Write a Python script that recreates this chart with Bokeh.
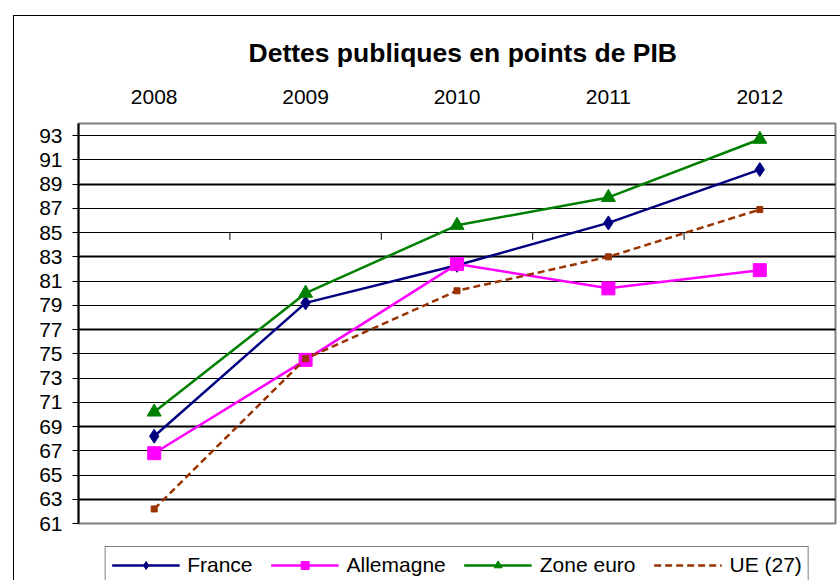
from bokeh.plotting import figure
from bokeh.models import FactorRange, Range1d, FixedTicker, Grid
from bokeh.layouts import column
from bokeh.embed import file_html
from bokeh.resources import INLINE

# ---- data ----
years = ["2008", "2009", "2010", "2011", "2012"]
france = [68.2, 79.2, 82.3, 85.8, 90.2]
allemagne = [66.8, 74.5, 82.4, 80.4, 81.9]
zone_euro = [70.2, 80.0, 85.6, 87.9, 92.7]
ue27 = [62.2, 74.6, 80.2, 83.0, 86.9]
y_ticks = [61, 63, 65, 67, 69, 71, 73, 75, 77, 79, 81, 83, 85, 87, 89, 91, 93]
heavy_grid = [63, 69, 77, 83, 89]
axis_cross = 85

FONT = "Liberation Sans"

# series styling: (label, values, colour, dash, marker, marker size, marker in legend)
series = [
    ("France", france, "#000080", "solid", "diamond", 14, True),
    ("Allemagne", allemagne, "#FF00FF", "solid", "square", 13, True),
    ("Zone euro", zone_euro, "#008000", "solid", "triangle", 14, True),
    ("UE (27)", ue27, "#993300", "7 4", "square", 6, False),
]

p = figure(width=826, height=530, output_backend="svg", toolbar_location=None,
           x_range=FactorRange(factors=years, range_padding=0),
           y_range=Range1d(61, 94),
           x_axis_location="above",
           min_border_left=64, min_border_right=5, min_border_top=107,
           min_border_bottom=23)

p.background_fill_color = "white"
p.border_fill_color = "white"
p.outline_line_color = "#808080"
p.outline_line_width = 2

# title
p.title.text = "Dettes publiques en points de PIB"
p.title.text_font = FONT
p.title.text_font_size = "26.5px"
p.title.text_font_style = "bold"
p.title.text_color = "black"
p.title.align = "left"
p.title.offset = 170
p.title.standoff = 37

# top category axis
xa = p.xaxis[0]
xa.axis_line_color = None
xa.major_tick_line_color = None
xa.minor_tick_line_color = None
xa.major_label_text_font = FONT
xa.major_label_text_font_size = "21px"
xa.major_label_text_color = "black"
xa.major_label_standoff = 14

# left value axis
ya = p.yaxis[0]
ya.ticker = FixedTicker(ticks=y_ticks)
ya.axis_line_color = "black"
ya.axis_line_width = 2
ya.major_tick_line_color = "black"
ya.major_tick_out = 6
ya.major_tick_in = 0
ya.minor_tick_line_color = None
ya.major_label_text_font = FONT
ya.major_label_text_font_size = "21px"
ya.major_label_text_color = "black"
ya.major_label_standoff = 10

# grids
p.xgrid.visible = False
p.ygrid.ticker = FixedTicker(ticks=y_ticks)
p.ygrid.grid_line_color = "black"
p.ygrid.grid_line_width = 1
p.ygrid.grid_line_alpha = 1
hg = Grid(dimension=1, ticker=FixedTicker(ticks=heavy_grid),
          grid_line_color="black", grid_line_width=2)
p.add_layout(hg)

# category tick marks on the axis crossing line
tick_x = [i + 1 for i in range(len(years))]
p.segment(x0=tick_x, y0=[axis_cross] * len(tick_x), x1=tick_x,
          y1=[axis_cross - 0.6] * len(tick_x), line_color="black", line_width=1)

# series lines + markers
for label, vals, col, dash, mk, ms, _ in series:
    p.line(years, vals, line_color=col, line_width=2.5, line_dash=dash)
    p.scatter(years, vals, marker=mk, size=ms, fill_color=col, line_color=col)

# ---- legend strip (separate figure under the chart) ----
# same series drawn against a value range that keeps them out of view,
# so only their legend entries show
lg = figure(width=826, height=34, output_backend="svg", toolbar_location=None,
            x_axis_location=None, y_axis_location=None,
            x_range=FactorRange(factors=years, range_padding=0),
            y_range=Range1d(0, 1),
            min_border_left=64, min_border_right=5, min_border_top=0,
            min_border_bottom=0)
lg.outline_line_color = None
lg.background_fill_color = "white"
lg.border_fill_color = "white"
lg.xgrid.visible = False
lg.ygrid.visible = False
for label, vals, col, dash, mk, ms, show_marker in series:
    lg.line(years, vals, line_color=col, line_width=2.5, line_dash=dash, legend_label=label)
    if show_marker:
        lg.scatter(years, vals, marker=mk, size=ms - 3, fill_color=col, line_color=col,
                   legend_label=label)

leg = lg.legend[0]
leg.orientation = "horizontal"
leg.location = "top_center"
leg.margin = 0
leg.padding = 6
leg.spacing = 18
leg.glyph_width = 68
leg.glyph_height = 20
leg.label_standoff = 8
leg.label_text_font = FONT
leg.label_text_font_size = "21px"
leg.label_text_color = "black"
leg.border_line_color = "black"
leg.border_line_width = 1
leg.background_fill_color = "white"
leg.background_fill_alpha = 1

layout = column(p, lg, spacing=0)
layout.styles = {"position": "relative", "left": "13px", "top": "15px",
                 "border-left": "1px solid black", "border-top": "1px solid black"}

open("out.html", "w").write(file_html(layout, INLINE))
